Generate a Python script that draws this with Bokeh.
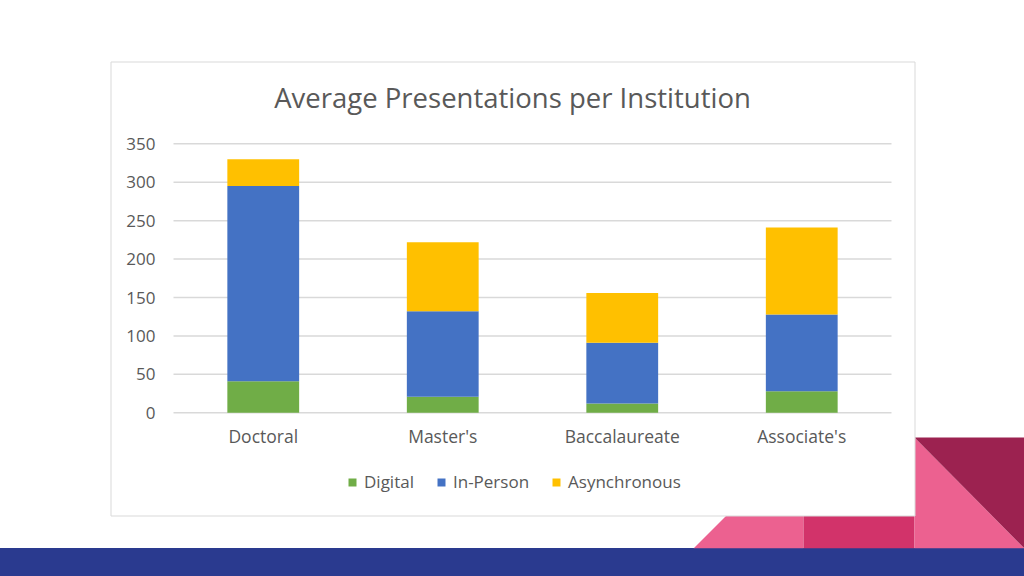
from bokeh.plotting import figure
from bokeh.models import (ColumnDataSource, Range1d, Label, Legend, LegendItem, FixedTicker)
from bokeh.embed import file_html
from bokeh.resources import INLINE

categories = ["Doctoral", "Master's", "Baccalaureate", "Associate's"]
series_names = ["Digital", "In-Person", "Asynchronous"]
digital = [41, 21, 12, 28]
in_person = [254, 111, 79, 100]
asynchronous = [35, 90, 65, 113]
y_ticks = [0, 50, 100, 150, 200, 250, 300, 350]
colors = ["#70AD47", "#4472C4", "#FFC000"]
title_text = "Average Presentations per Institution"

FONT = "Open Sans"
GREY = "#595959"
NAVY = "#2A3A8F"

# ---- layout constants (canvas pixels) ----
W, H = 1024, 576
FL, FT = 60, 40                 # frame left / top (frame spans to W, H)
CHART_L, CHART_R = 173, 891     # plot area of the embedded chart
CHART_Y0, CHART_YMAX = 412.3, 143.3   # pixel rows of value 0 and of the top tick

x_pos = [i + 0.5 for i in range(len(categories))]
ppx = (CHART_R - CHART_L) / len(categories)
x_start = (FL - CHART_L) / ppx
x_end = (W - CHART_L) / ppx
ppy = (CHART_Y0 - CHART_YMAX) / y_ticks[-1]
y_start = -(H - CHART_Y0) / ppy
y_end = y_ticks[-1] + (CHART_YMAX - FT) / ppy

src = ColumnDataSource(dict(x=x_pos, cat=categories, Digital=digital,
                            **{"In-Person": in_person}, Asynchronous=asynchronous))

p = figure(width=W, height=H, output_backend="svg", toolbar_location=None,
           x_range=Range1d(x_start, x_end), y_range=Range1d(y_start, y_end),
           x_axis_location="above", y_axis_location="left",
           min_border_left=FL, min_border_top=FT, min_border_right=0, min_border_bottom=0,
           styles={"background": f"linear-gradient(to bottom, #ffffff 0px, #ffffff 548px, {NAVY} 548px, {NAVY} 576px)"})
p.background_fill_color = None
p.border_fill_color = None
p.outline_line_color = None
p.grid.visible = False

p.extra_x_ranges = {"px": Range1d(FL, W)}
p.extra_y_ranges = {"px": Range1d(H, FT)}

# ---- slide decorations ----
p.patch([693, 726, 803, 803], [548, 515, 515, 548], x_range_name="px", y_range_name="px",
        fill_color="#EC6190", line_color=None)
p.quad(left=[803], right=[914], top=[515], bottom=[548], x_range_name="px", y_range_name="px",
       fill_color="#D2336A", line_color=None)
p.patch([914, 914, 1024], [437, 548, 548], x_range_name="px", y_range_name="px",
        fill_color="#EC6190", line_color=None)
p.patch([914, 1024, 1024], [437, 437, 548], x_range_name="px", y_range_name="px",
        fill_color="#9C2250", line_color=None)
p.quad(left=[0], right=[1030], top=[548], bottom=[580], x_range_name="px", y_range_name="px",
       fill_color=NAVY, line_color=None)
p.quad(left=[110.5], right=[914.5], top=[61.5], bottom=[515.5], x_range_name="px", y_range_name="px",
       fill_color="white", line_color="#D9D9D9", line_width=1)

# ---- gridlines over the chart area ----
p.segment(x0=[CHART_L] * len(y_ticks), x1=[CHART_R] * len(y_ticks), y0=y_ticks, y1=y_ticks,
          x_range_name="px", line_color="#D9D9D9", line_width=1.5)

# ---- bars ----
renderers = p.vbar_stack(series_names, x="x", width=0.4, color=colors, source=src, line_color=None)

legend = Legend(items=[LegendItem(label=n, renderers=[r]) for n, r in zip(series_names, renderers)],
                location=(287, 83), orientation="horizontal", padding=0, margin=0,
                border_line_color=None, background_fill_alpha=0,
                glyph_width=10, glyph_height=10, label_standoff=7, spacing=22,
                label_text_font=FONT, label_text_font_size="17px", label_text_color=GREY)
p.add_layout(legend, "center")

p.add_layout(Label(x=512, y=97, x_range_name="px", y_range_name="px", text=title_text,
                   text_align="center", text_baseline="middle", text_font=FONT,
                   text_font_size="27.5px", text_color=GREY))

# ---- axes ----
xa = p.xaxis[0]
xa.ticker = FixedTicker(ticks=x_pos)
xa.major_label_overrides = {x: c for x, c in zip(x_pos, categories)}
xa.y_range_name = "px"
xa.fixed_location = 447
xa.major_label_standoff = 0
xa.major_label_text_font_size = "17.5px"

ya = p.yaxis[0]
ya.ticker = FixedTicker(ticks=y_ticks)
ya.x_range_name = "px"
ya.fixed_location = CHART_L
ya.major_label_standoff = 18
ya.major_label_text_font_size = "17px"

for ax in (xa, ya):
    ax.axis_line_color = None
    ax.major_tick_line_color = None
    ax.minor_tick_line_color = None
    ax.major_tick_out = 0
    ax.major_tick_in = 0
    ax.minor_tick_out = 0
    ax.minor_tick_in = 0
    ax.major_label_text_font = FONT
    ax.major_label_text_color = GREY

open("out.html", "w").write(file_html(p, INLINE))
